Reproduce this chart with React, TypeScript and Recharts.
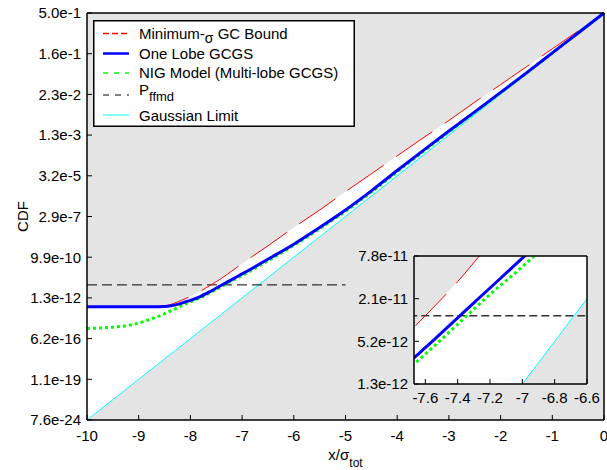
import React from 'react';
import { ComposedChart, Line, Area, XAxis, YAxis, CartesianGrid } from 'recharts';

// x / sigma_tot sample positions
const xs = [-10, -9.5, -9, -8.75, -8.5, -8.4, -8.25, -8.1, -8, -7.8, -7.6, -7.4, -7.2, -7, -6.8, -6.5, -6, -5.5, -5, -4.5, -4, -3.5, -3, -2.5, -2, -1.5, -1, -0.5, 0];
// Values in normal-probability (sigma) units; tick labels map them to CDF values
const minSigmaBound = [-7.216, -7.216, -7.216, -7.214, -7.2, -7.17, -7.1, -7.02, -6.96, -6.83, -6.68, -6.52, -6.34, -6.16, -5.98, -5.72, -5.27, -4.84, -4.39, -3.95, -3.51, -3.07, -2.64, -2.19, -1.76, -1.32, -0.88, -0.44, 0];
const oneLobe = [-7.216, -7.216, -7.216, -7.215, -7.21, -7.2, -7.16, -7.1, -7.06, -6.96, -6.83, -6.69, -6.55, -6.41, -6.27, -6.05, -5.68, -5.27, -4.84, -4.37, -3.87, -3.38, -2.9, -2.43, -1.95, -1.47, -0.98, -0.49, 0];
const nigModel = [-7.75, -7.72, -7.62, -7.51, -7.39, -7.33, -7.24, -7.15, -7.1, -6.99, -6.86, -6.72, -6.58, -6.45, -6.31, -6.09, -5.71, -5.3, -4.87, -4.4, -3.9, -3.41, -2.92, -2.44, -1.96, -1.48, -0.985, -0.49, 0];
const gaussianLimit = [-10, -9.5, -9, -8.75, -8.5, -8.4, -8.25, -8.1, -8, -7.8, -7.6, -7.4, -7.2, -7, -6.8, -6.5, -6, -5.5, -5, -4.5, -4, -3.5, -3, -2.5, -2, -1.5, -1, -0.5, 0];
const pffmdLevel = -6.68;
const pffmdEnd = -5;

const mainTicks = [-10, -9, -8, -7, -6, -5, -4, -3, -2, -1, 0];
const cdfTickLabels = ['7.6e-24', '1.1e-19', '6.2e-16', '1.3e-12', '9.9e-10', '2.9e-7', '3.2e-5', '1.3e-3', '2.3e-2', '1.6e-1', '5.0e-1'];
const insetXDomain = [-7.67, -6.6];
const insetYDomain = [-7, -6.4];
const insetXTicks = [-7.6, -7.4, -7.2, -7, -6.8, -6.6];
const insetYTicks = [-7, -6.8, -6.6, -6.4];
const insetYLabels = ['1.3e-12', '5.2e-12', '2.1e-11', '7.8e-11'];

const data = xs.map((x, i) => ({
  x,
  red: minSigmaBound[i],
  blue: oneLobe[i],
  green: nigModel[i],
  gauss: gaussianLimit[i],
  band: [gaussianLimit[i], minSigmaBound[i]],
  pffmd: x <= pffmdEnd ? pffmdLevel : null,
}));

const FONT = "'Liberation Sans', Arial, Helvetica, sans-serif";
const BG = '#e4e4e4';
const tickStyle = { fill: '#000', fontSize: 15, fontFamily: FONT };
const frame = { stroke: '#000', strokeWidth: 1.5 };

const XLabel = (props: any) => {
  const vb = props.viewBox || { x: 87, width: 517 };
  const cx = vb.x + vb.width / 2;
  return (
    <text x={cx} y={460} textAnchor="middle" fontFamily={FONT} fontSize={15} fill="#000">
      x/σ<tspan dy={7} fontSize={12}>tot</tspan>
    </text>
  );
};

const YLabel = (props: any) => {
  const vb = props.viewBox || { y: 13, height: 407 };
  const cy = vb.y + vb.height / 2;
  return (
    <text x={22} y={cy} transform={`rotate(-90, 22, ${cy})`} textAnchor="middle" dominantBaseline="central" fontFamily={FONT} fontSize={15} fill="#000">
      CDF
    </text>
  );
};

const series = (inset: boolean) => [
  <Area key="band" dataKey="band" type="linear" fill="#ffffff" fillOpacity={1} stroke="none" isAnimationActive={false} />,
  <Line key="gauss" dataKey="gauss" type="linear" stroke="#00ffff" strokeWidth={1} dot={false} activeDot={false} isAnimationActive={false} />,
  <Line key="pffmd" dataKey="pffmd" type="linear" stroke={inset ? '#333' : '#000'} strokeWidth={inset ? 1.5 : 1} strokeDasharray={inset ? '8 4' : '10 5'} dot={false} activeDot={false} isAnimationActive={false} />,
  <Line key="red" dataKey="red" type="monotone" stroke="#ff0000" strokeWidth={1} strokeDasharray="44 15" dot={false} activeDot={false} isAnimationActive={false} />,
  <Line key="green" dataKey="green" type="monotone" stroke="#00ff00" strokeWidth={3} strokeDasharray="3 3" dot={false} activeDot={false} isAnimationActive={false} />,
  <Line key="blue" dataKey="blue" type="monotone" stroke="#0000ff" strokeWidth={3} dot={false} activeDot={false} isAnimationActive={false} />,
];

const Legend = () => (
  <svg width={262} height={107} style={{ position: 'absolute', left: 93, top: 20 }}>
    <rect x={0.75} y={0.75} width={260.5} height={105.5} fill="#fff" stroke="#000" strokeWidth={1.5} />
    <line x1={10} x2={36} y1={13.5} y2={13.5} stroke="#ff0000" strokeWidth={1.5} strokeDasharray="6 3" />
    <text x={46} y={18.5} fontFamily={FONT} fontSize={15} fill="#000">Minimum-<tspan dy={4} fontSize={14}>σ</tspan><tspan dy={-4}> GC Bound</tspan></text>
    <line x1={10} x2={36} y1={33.5} y2={33.5} stroke="#0000ff" strokeWidth={2.5} />
    <text x={46} y={38.5} fontFamily={FONT} fontSize={15} fill="#000">One Lobe GCGS</text>
    <line x1={10} x2={36} y1={53} y2={53} stroke="#00ff00" strokeWidth={1.5} strokeDasharray="5 6" />
    <text x={46} y={58} fontFamily={FONT} fontSize={15} fill="#000">NIG Model (Multi-lobe GCGS)</text>
    <line x1={10} x2={36} y1={75} y2={75} stroke="#000" strokeWidth={1} strokeDasharray="6 6" />
    <text x={46} y={74.5} fontFamily={FONT} fontSize={15} fill="#000">P<tspan dy={6} fontSize={13}>ffmd</tspan></text>
    <line x1={10} x2={36} y1={95} y2={95} stroke="#00ffff" strokeWidth={1} />
    <text x={46} y={100.5} fontFamily={FONT} fontSize={15} fill="#000">Gaussian Limit</text>
  </svg>
);

export default function App() {
  return (
    <div style={{ position: 'absolute', left: 0, top: 0, width: 607, height: 470, background: '#fff' }}>
      <ComposedChart width={607} height={470} data={data} margin={{ top: 12, right: 2, bottom: 0, left: 0 }}>
        <CartesianGrid fill={BG} horizontal={false} vertical={false} />
        <XAxis type="number" dataKey="x" domain={[-10, 0]} ticks={mainTicks} interval={0} height={50}
          tickSize={-5} tickMargin={15} stroke="#000" axisLine={frame} tick={tickStyle} label={<XLabel />} />
        <XAxis xAxisId="top" orientation="top" type="number" dataKey="x" domain={[-10, 0]} ticks={mainTicks} interval={0}
          height={1} tickSize={-5} tick={false} stroke="#000" axisLine={frame} />
        <YAxis type="number" domain={[-10, 0]} ticks={mainTicks} interval={0} width={87}
          tickSize={-5} tickMargin={11} stroke="#000" axisLine={frame} tick={tickStyle}
          tickFormatter={(v: number) => cdfTickLabels[mainTicks.indexOf(v)] ?? ''} label={<YLabel />} />
        <YAxis yAxisId="right" orientation="right" type="number" domain={[-10, 0]} ticks={mainTicks} interval={0}
          width={1} tickSize={-5} tick={false} stroke="#000" axisLine={frame} />
        {series(false)}
      </ComposedChart>
      <div style={{ position: 'absolute', left: 0, top: 0, pointerEvents: 'none' }}>
        <ComposedChart width={607} height={470} data={data} margin={{ top: 255, right: 19, bottom: 56, left: 354 }}>
          <CartesianGrid fill={BG} horizontal={false} vertical={false} />
          <XAxis type="number" dataKey="x" domain={insetXDomain} allowDataOverflow ticks={insetXTicks} interval={0} height={30}
            tickSize={-5} tickMargin={13} stroke="#000" axisLine={frame} tick={tickStyle} />
          <XAxis xAxisId="top" orientation="top" type="number" dataKey="x" domain={insetXDomain} allowDataOverflow ticks={insetXTicks} interval={0}
            height={1} tickSize={-5} tick={false} stroke="#000" axisLine={frame} />
          <YAxis type="number" domain={insetYDomain} allowDataOverflow ticks={insetYTicks} interval={0} width={60}
            tickSize={-5} tickMargin={11} stroke="#000" axisLine={frame} tick={tickStyle}
            tickFormatter={(v: number) => insetYLabels[insetYTicks.indexOf(v)] ?? ''} />
          <YAxis yAxisId="right" orientation="right" type="number" domain={insetYDomain} allowDataOverflow ticks={insetYTicks} interval={0}
            width={1} tickSize={-5} tick={false} stroke="#000" axisLine={frame} />
          {series(true)}
        </ComposedChart>
      </div>
      <Legend />
    </div>
  );
}
